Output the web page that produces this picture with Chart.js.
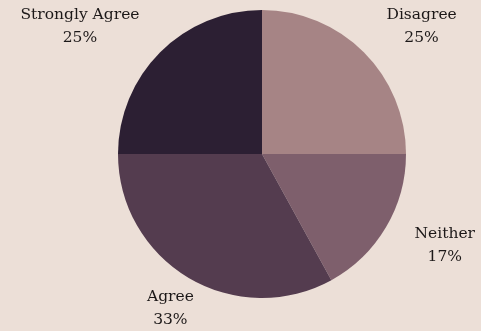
<!DOCTYPE html>
<html>
<head>
<meta charset="utf-8">
<script src="https://cdn.jsdelivr.net/npm/chart.js@4"></script>
<style>
  html, body { margin: 0; padding: 0; background: #ecdfd7; }
  #wrap { width: 481px; height: 331px; }
</style>
</head>
<body>
<div id="wrap"><canvas id="pieChart" width="481" height="331"></canvas></div>
<script>
// Survey answers, clockwise from 12 o'clock
const labels = ['Disagree', 'Neither', 'Agree', 'Strongly Agree'];
const percents = [25, 17, 33, 25];
const colors = ['#a68485', '#7e5f6c', '#543c4f', '#2c1f33'];

// Draw "name / xx%" outside each slice
const outsideLabels = {
    id: 'outsideLabels',
    afterDatasetsDraw(chart) {
        const ctx = chart.ctx;
        const meta = chart.getDatasetMeta(0);
        ctx.save();
        ctx.font = '15.5px "DejaVu Serif"';
        ctx.fillStyle = '#1c1818';
        ctx.textAlign = 'center';
        ctx.textBaseline = 'middle';
        meta.data.forEach((arc, i) => {
            const p = arc.getProps(['x', 'y', 'startAngle', 'endAngle', 'outerRadius'], true);
            const mid = (p.startAngle + p.endAngle) / 2;
            const r = p.outerRadius + 36;
            const cos = Math.cos(mid), sin = Math.sin(mid);
            const lines = [labels[i], percents[i] + '%'];
            const hw = Math.max(...lines.map(t => ctx.measureText(t).width)) / 2;
            let cx = p.x + r * cos;
            if (Math.abs(cos) > 0.6) cx += Math.sign(cos) * hw * 0.92;
            const cy = p.y + r * sin;
            ctx.fillText(lines[0], cx, cy - 11.5);
            ctx.fillText(lines[1], cx, cy + 11.5);
        });
        ctx.restore();
    }
};

new Chart(document.getElementById('pieChart'), {
    type: 'pie',
    data: {
        labels: labels,
        datasets: [{
            data: percents,
            backgroundColor: colors,
            borderWidth: 0
        }]
    },
    options: {
        responsive: false,
        animation: false,
        layout: { padding: { left: 118, right: 75, top: 10, bottom: 33 } },
        plugins: {
            legend: { display: false },
            tooltip: { enabled: false }
        }
    },
    plugins: [outsideLabels]
});
</script>
</body>
</html>
